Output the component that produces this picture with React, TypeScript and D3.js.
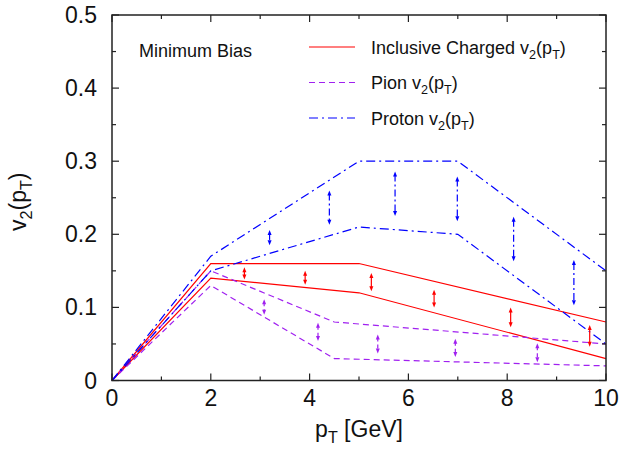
import React, { useRef, useEffect } from "react";
import * as d3 from "d3";

// band edges (pT in GeV, v2)
const chargedX = [0, 2, 5, 10];
const chargedHigh = [0, 0.16, 0.16, 0.08];
const chargedLow = [0, 0.14, 0.12, 0.03];

const pionX = [0, 2, 4.5, 10];
const pionHigh = [0, 0.15, 0.08, 0.05];
const pionLow = [0, 0.13, 0.03, 0.02];

const protonX = [0, 2, 5, 7, 10];
const protonHigh = [0, 0.17, 0.3, 0.3, 0.15];
const protonLow = [0, 0.15, 0.21, 0.2, 0.05];

// double arrows between the band edges
const chargedArrowX = [2.68, 3.91, 5.25, 6.52, 8.07, 9.67];
const chargedArrowTop = [0.155, 0.15, 0.147, 0.124, 0.1, 0.076];
const chargedArrowBottom = [0.138, 0.131, 0.122, 0.1, 0.073, 0.046];

const pionArrowX = [3.08, 4.17, 5.38, 6.95, 8.61];
const pionArrowTop = [0.111, 0.079, 0.063, 0.057, 0.051];
const pionArrowBottom = [0.09, 0.054, 0.037, 0.032, 0.025];

const protonArrowX = [3.19, 4.4, 5.73, 6.99, 8.13, 9.35];
const protonArrowTop = [0.206, 0.26, 0.286, 0.279, 0.224, 0.165];
const protonArrowBottom = [0.185, 0.213, 0.225, 0.218, 0.163, 0.103];

const xTicks = [0, 2, 4, 6, 8, 10];
const yTicks = [0, 0.1, 0.2, 0.3, 0.4, 0.5];

const W = 621;
const H = 449;
const FONT = "'Liberation Sans', Arial, Helvetica, sans-serif";

const series = [
  {
    name: "Inclusive Charged",
    color: "#ff0000",
    dash: null,
    xs: chargedX,
    high: chargedHigh,
    low: chargedLow,
    ax: chargedArrowX,
    at: chargedArrowTop,
    ab: chargedArrowBottom,
  },
  {
    name: "Pion",
    color: "#a020f0",
    dash: "6,4",
    xs: pionX,
    high: pionHigh,
    low: pionLow,
    ax: pionArrowX,
    at: pionArrowTop,
    ab: pionArrowBottom,
  },
  {
    name: "Proton",
    color: "#0000ff",
    dash: "9,4,2,4",
    xs: protonX,
    high: protonHigh,
    low: protonLow,
    ax: protonArrowX,
    at: protonArrowTop,
    ab: protonArrowBottom,
  },
];

// writes "v2(pT)" with subscripts into a text node
const v2Label = (t, prefix, sub) => {
  if (prefix) t.append("tspan").text(prefix);
  t.append("tspan").text("v");
  t.append("tspan").attr("font-size", "0.7em").attr("dy", sub).text("2");
  t.append("tspan").attr("dy", -sub).text("(p");
  t.append("tspan").attr("font-size", "0.7em").attr("dy", sub).text("T");
  t.append("tspan").attr("dy", -sub).text(")");
};

const App = () => {
  const svgRef = useRef<SVGSVGElement>(null);

  useEffect(() => {
    const svg = d3.select(svgRef.current);
    svg.selectAll("*").remove();

    const x = d3.scaleLinear().domain([0, 10]).range([112, 606]);
    const y = d3.scaleLinear().domain([0, 0.5]).range([380.5, 15]);
    const [x0, x1] = x.range();
    const [y0, y1] = y.range();

    const line = d3
      .line<[number, number]>()
      .x((d) => x(d[0]))
      .y((d) => y(d[1]));

    // band edges
    const g = svg.append("g").attr("fill", "none").attr("stroke-width", 1.2);
    series.forEach((s) => {
      [s.high, s.low].forEach((vals) => {
        g.append("path")
          .attr("d", line(s.xs.map((v, i) => [v, vals[i]])))
          .attr("stroke", s.color)
          .attr("stroke-dasharray", s.dash);
      });
    });

    // double headed arrows
    series.forEach((s) => {
      s.ax.forEach((v, i) => {
        const px = x(v);
        const top = y(s.at[i]);
        const bot = y(s.ab[i]);
        svg
          .append("line")
          .attr("x1", px)
          .attr("x2", px)
          .attr("y1", top + 3)
          .attr("y2", bot - 3)
          .attr("stroke", s.color)
          .attr("stroke-width", 1.2)
          .attr("stroke-dasharray", s.dash ? (s.dash === "6,4" ? "4,3" : "7,3,2,3") : null);
        svg
          .append("path")
          .attr("d", `M${px},${top}L${px - 2},${top + 5}L${px + 2},${top + 5}Z`)
          .attr("fill", s.color);
        svg
          .append("path")
          .attr("d", `M${px},${bot}L${px - 2},${bot - 5}L${px + 2},${bot - 5}Z`)
          .attr("fill", s.color);
      });
    });

    // frame
    svg
      .append("rect")
      .attr("x", x0)
      .attr("y", y1)
      .attr("width", x1 - x0)
      .attr("height", y0 - y1)
      .attr("fill", "none")
      .attr("stroke", "#222")
      .attr("stroke-width", 1.5);

    // ticks inside on all four sides
    const tk = svg.append("g").attr("stroke", "#222").attr("stroke-width", 1.2);
    d3.range(0, 11, 1).forEach((v) => {
      const len = v % 2 === 0 ? 7 : 4;
      tk.append("line").attr("x1", x(v)).attr("x2", x(v)).attr("y1", y0).attr("y2", y0 - len);
      tk.append("line").attr("x1", x(v)).attr("x2", x(v)).attr("y1", y1).attr("y2", y1 + len);
    });
    d3.range(0, 11, 1).forEach((k) => {
      const v = k * 0.05;
      const len = k % 2 === 0 ? 7 : 4;
      tk.append("line").attr("x1", x0).attr("x2", x0 + len).attr("y1", y(v)).attr("y2", y(v));
      tk.append("line").attr("x1", x1).attr("x2", x1 - len).attr("y1", y(v)).attr("y2", y(v));
    });

    // tick labels
    const lab = svg.append("g").attr("font-family", FONT).attr("font-size", 23).attr("fill", "#111");
    xTicks.forEach((v) => {
      lab.append("text").attr("x", x(v)).attr("y", 406).attr("text-anchor", "middle").text(v);
    });
    yTicks.forEach((v) => {
      lab
        .append("text")
        .attr("x", 97)
        .attr("y", y(v) + 8)
        .attr("text-anchor", "end")
        .text(v === 0 ? "0" : d3.format(".1f")(v));
    });

    // axis titles
    const xt = svg
      .append("text")
      .attr("font-family", FONT)
      .attr("font-size", 23)
      .attr("fill", "#111")
      .attr("x", (x0 + x1) / 2)
      .attr("y", 437)
      .attr("text-anchor", "middle");
    xt.append("tspan").text("p");
    xt.append("tspan").attr("font-size", "0.7em").attr("dy", 6).text("T");
    xt.append("tspan").attr("dy", -6).text(" [GeV]");

    const yt = svg
      .append("text")
      .attr("font-family", FONT)
      .attr("font-size", 23)
      .attr("fill", "#111")
      .attr("text-anchor", "middle")
      .attr("transform", `translate(26,${(y0 + y1) / 2 + 4}) rotate(-90)`);
    v2Label(yt, "", 6);

    // legend
    const lg = svg.append("g").attr("font-family", FONT).attr("font-size", 18).attr("fill", "#111");
    lg.append("text").attr("x", 139).attr("y", 57).text("Minimum Bias");
    series.forEach((s, i) => {
      const ly = 47 + i * 35.5;
      lg.append("line")
        .attr("x1", 309)
        .attr("x2", 355)
        .attr("y1", ly)
        .attr("y2", ly)
        .attr("stroke", s.color)
        .attr("stroke-width", 1.2)
        .attr("stroke-dasharray", s.dash);
      const t = lg.append("text").attr("x", 371).attr("y", ly + 6.5);
      v2Label(t, s.name + " ", 5);
    });
  }, []);

  return (
    <svg
      ref={svgRef}
      width={W}
      height={H}
      style={{ position: "absolute", left: 0, top: 0, background: "#fff" }}
    />
  );
};

export default App;
